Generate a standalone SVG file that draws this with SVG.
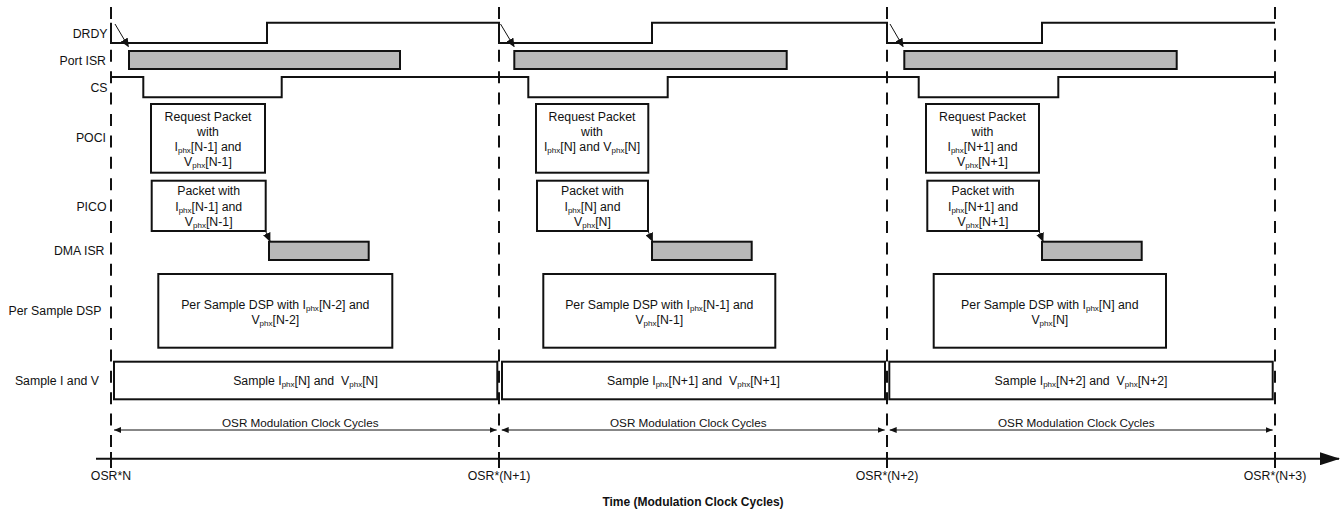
<svg xmlns="http://www.w3.org/2000/svg" width="1340" height="510" viewBox="0 0 1340 510">
<style>
text{font-family:"Liberation Sans",Arial,sans-serif;font-size:12.3px;fill:#111}
.lbl{text-anchor:end}
.c{text-anchor:middle}
.sub{font-size:8px}
.dim{font-size:11.7px;text-anchor:middle}
.title{font-weight:bold;font-size:12px;text-anchor:middle}
.sig{fill:none;stroke:#111;stroke-width:2}
.box{fill:#fff;stroke:#111;stroke-width:2}
.isr{fill:#b8b8b8;stroke:#111;stroke-width:2}
.dash{stroke:#111;stroke-width:2;stroke-dasharray:12 9.4;fill:none}
.tick{stroke:#111;stroke-width:2}
.con{stroke:#111;stroke-width:1;fill:none}
</style>
<defs>
<marker id="ah" markerUnits="userSpaceOnUse" markerWidth="9" markerHeight="8" refX="8" refY="4" orient="auto"><path d="M0,0 L9,4 L0,8 z" fill="#111"/></marker>
<marker id="dh" markerUnits="userSpaceOnUse" markerWidth="7" markerHeight="6" refX="7" refY="3" orient="auto-start-reverse"><path d="M0,0 L7,3 L0,6 z" fill="#111"/></marker>
<marker id="axh" markerUnits="userSpaceOnUse" markerWidth="20" markerHeight="13" refX="19" refY="6.5" orient="auto"><path d="M0,0 L20,6.5 L0,13 z" fill="#111"/></marker>
</defs>

<g id="labels">
<text class="lbl" x="107.5" y="37.5">DRDY</text>
<text class="lbl" x="106" y="64.5">Port ISR</text>
<text class="lbl" x="107.5" y="92">CS</text>
<text class="lbl" x="106" y="141.5">POCI</text>
<text class="lbl" x="106.5" y="210.5">PICO</text>
<text class="lbl" x="104.5" y="254.5">DMA ISR</text>
<text class="lbl" x="101.5" y="315">Per Sample DSP</text>
<text class="lbl" x="99" y="385">Sample I and V</text>
</g>

<g id="cycle-lines">
<line class="dash" x1="111" y1="7" x2="111" y2="459"/>
<line class="dash" x1="499" y1="7" x2="499" y2="459"/>
<line class="dash" x1="887" y1="7" x2="887" y2="459"/>
<line class="dash" x1="1275" y1="7" x2="1275" y2="459"/>
</g>

<g id="drdy"><path class="sig" d="M111,22.7 V43 H267 V22.7 H499 V43 H652 V22.7 H887 V43 H1042 V22.7 H1275"/></g>
<g id="cs"><path class="sig" d="M111,77 H143.3 V97.3 H281.7 V77 H528.3 V97.3 H667.7 V77 H918.7 V97.3 H1058.3 V77 H1275"/></g>

<g id="port-isr">
<rect class="isr" x="129" y="51" width="271" height="18"/>
<rect class="isr" x="514.3" y="51" width="272.4" height="18"/>
<rect class="isr" x="904.3" y="51" width="272.4" height="18"/>
</g>

<g id="poci-1">
<rect class="box" x="151" y="104" width="114" height="68.7"/>
<text class="c" x="208" y="120.5">Request Packet</text>
<text class="c" x="208" y="135.5">with</text>
<text class="c" x="208" y="150.5">I<tspan class="sub" dy="2">phx</tspan><tspan dy="-2">[N-1] and</tspan></text>
<text class="c" x="208" y="165.5">V<tspan class="sub" dy="2">phx</tspan><tspan dy="-2">[N-1]</tspan></text>
</g>
<g id="poci-2">
<rect class="box" x="536" y="104" width="112.3" height="68.7"/>
<text class="c" x="592" y="120.5">Request Packet</text>
<text class="c" x="592" y="135.5">with</text>
<text class="c" x="592" y="150.5">I<tspan class="sub" dy="2">phx</tspan><tspan dy="-2">[N] and V</tspan><tspan class="sub" dy="2">phx</tspan><tspan dy="-2">[N]</tspan></text>
</g>
<g id="poci-3">
<rect class="box" x="926" y="104" width="113" height="68.7"/>
<text class="c" x="982.5" y="120.5">Request Packet</text>
<text class="c" x="982.5" y="135.5">with</text>
<text class="c" x="982.5" y="150.5">I<tspan class="sub" dy="2">phx</tspan><tspan dy="-2">[N+1] and</tspan></text>
<text class="c" x="982.5" y="165.5">V<tspan class="sub" dy="2">phx</tspan><tspan dy="-2">[N+1]</tspan></text>
</g>

<g id="pico-1">
<rect class="box" x="151.7" y="180.7" width="114" height="50.3"/>
<text class="c" x="208.7" y="195">Packet with</text>
<text class="c" x="208.7" y="210.5">I<tspan class="sub" dy="2">phx</tspan><tspan dy="-2">[N-1] and</tspan></text>
<text class="c" x="208.7" y="226">V<tspan class="sub" dy="2">phx</tspan><tspan dy="-2">[N-1]</tspan></text>
</g>
<g id="pico-2">
<rect class="box" x="537" y="180.7" width="111" height="50.3"/>
<text class="c" x="592.5" y="195">Packet with</text>
<text class="c" x="592.5" y="210.5">I<tspan class="sub" dy="2">phx</tspan><tspan dy="-2">[N] and</tspan></text>
<text class="c" x="592.5" y="226">V<tspan class="sub" dy="2">phx</tspan><tspan dy="-2">[N]</tspan></text>
</g>
<g id="pico-3">
<rect class="box" x="927.3" y="180.7" width="111.7" height="50.3"/>
<text class="c" x="983" y="195">Packet with</text>
<text class="c" x="983" y="210.5">I<tspan class="sub" dy="2">phx</tspan><tspan dy="-2">[N+1] and</tspan></text>
<text class="c" x="983" y="226">V<tspan class="sub" dy="2">phx</tspan><tspan dy="-2">[N+1]</tspan></text>
</g>

<g id="dma-isr">
<rect class="isr" x="269" y="241.7" width="99.7" height="18.3"/>
<rect class="isr" x="652" y="241.7" width="99.7" height="18.3"/>
<rect class="isr" x="1042" y="241.7" width="99.7" height="18.3"/>
</g>

<g id="dsp-1">
<rect class="box" x="158.3" y="274" width="234" height="73.7"/>
<text class="c" x="275.3" y="308.5">Per Sample DSP with I<tspan class="sub" dy="2">phx</tspan><tspan dy="-2">[N-2] and</tspan></text>
<text class="c" x="275.3" y="323.5">V<tspan class="sub" dy="2">phx</tspan><tspan dy="-2">[N-2]</tspan></text>
</g>
<g id="dsp-2">
<rect class="box" x="543.3" y="274" width="232" height="73.7"/>
<text class="c" x="659.3" y="308.5">Per Sample DSP with I<tspan class="sub" dy="2">phx</tspan><tspan dy="-2">[N-1] and</tspan></text>
<text class="c" x="659.3" y="323.5">V<tspan class="sub" dy="2">phx</tspan><tspan dy="-2">[N-1]</tspan></text>
</g>
<g id="dsp-3">
<rect class="box" x="933.7" y="274" width="232.3" height="73.7"/>
<text class="c" x="1049.8" y="308.5">Per Sample DSP with I<tspan class="sub" dy="2">phx</tspan><tspan dy="-2">[N] and</tspan></text>
<text class="c" x="1049.8" y="323.5">V<tspan class="sub" dy="2">phx</tspan><tspan dy="-2">[N]</tspan></text>
</g>

<g id="sample-1">
<rect class="box" x="114" y="361.7" width="383.3" height="37.6"/>
<text class="c" x="305.5" y="385" xml:space="preserve">Sample I<tspan class="sub" dy="2">phx</tspan><tspan dy="-2">[N] and  V</tspan><tspan class="sub" dy="2">phx</tspan><tspan dy="-2">[N]</tspan></text>
</g>
<g id="sample-2">
<rect class="box" x="502" y="361.7" width="383" height="37.6"/>
<text class="c" x="693.5" y="385" xml:space="preserve">Sample I<tspan class="sub" dy="2">phx</tspan><tspan dy="-2">[N+1] and  V</tspan><tspan class="sub" dy="2">phx</tspan><tspan dy="-2">[N+1]</tspan></text>
</g>
<g id="sample-3">
<rect class="box" x="889.3" y="361.7" width="383.4" height="37.6"/>
<text class="c" x="1081" y="385" xml:space="preserve">Sample I<tspan class="sub" dy="2">phx</tspan><tspan dy="-2">[N+2] and  V</tspan><tspan class="sub" dy="2">phx</tspan><tspan dy="-2">[N+2]</tspan></text>
</g>

<g id="connectors">
<line class="con" x1="115" y1="24" x2="128.3" y2="46.5" marker-end="url(#ah)"/>
<line class="con" x1="500.5" y1="24" x2="514" y2="46.5" marker-end="url(#ah)"/>
<line class="con" x1="890" y1="24" x2="903" y2="46.5" marker-end="url(#ah)"/>
<line class="con" x1="265.5" y1="231" x2="270" y2="241" marker-end="url(#ah)"/>
<line class="con" x1="648" y1="231" x2="652.5" y2="241" marker-end="url(#ah)"/>
<line class="con" x1="1039" y1="231" x2="1043" y2="241" marker-end="url(#ah)"/>
</g>

<g id="cycle-dimensions">
<line class="con" x1="114" y1="430" x2="496.7" y2="430" marker-start="url(#dh)" marker-end="url(#dh)"/>
<line class="con" x1="501.7" y1="430" x2="884.7" y2="430" marker-start="url(#dh)" marker-end="url(#dh)"/>
<line class="con" x1="889.7" y1="430" x2="1272.7" y2="430" marker-start="url(#dh)" marker-end="url(#dh)"/>
<text class="dim" x="300.3" y="427">OSR Modulation Clock Cycles</text>
<text class="dim" x="688.3" y="427">OSR Modulation Clock Cycles</text>
<text class="dim" x="1076.3" y="427">OSR Modulation Clock Cycles</text>
</g>

<g id="time-axis">
<line class="tick" x1="96" y1="458.7" x2="1339" y2="458.7" marker-end="url(#axh)"/>
<line class="tick" x1="111" y1="452" x2="111" y2="468"/>
<line class="tick" x1="499" y1="452" x2="499" y2="468"/>
<line class="tick" x1="887" y1="452" x2="887" y2="468"/>
<line class="tick" x1="1275" y1="452" x2="1275" y2="468"/>
<text class="c" x="111" y="480">OSR*N</text>
<text class="c" x="499" y="480">OSR*(N+1)</text>
<text class="c" x="887" y="480">OSR*(N+2)</text>
<text class="c" x="1275" y="480">OSR*(N+3)</text>
<text class="title" x="693" y="506">Time (Modulation Clock Cycles)</text>
</g>
</svg>
